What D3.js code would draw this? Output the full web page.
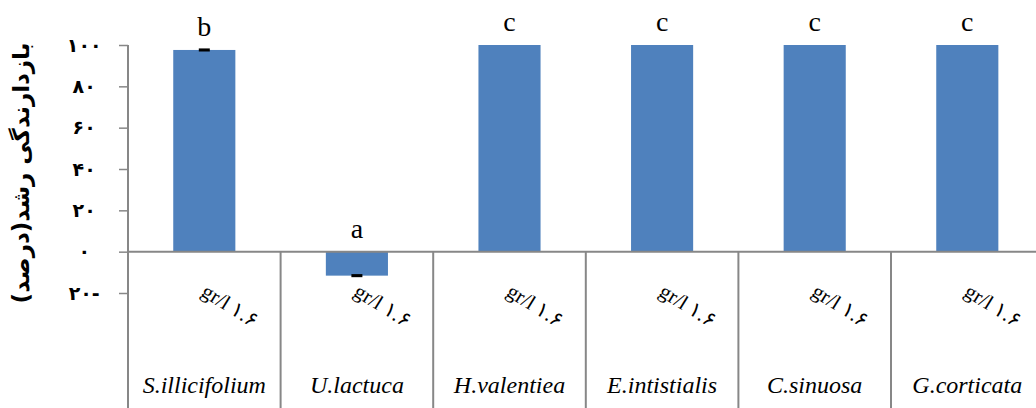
<!DOCTYPE html>
<html>
<head>
<meta charset="utf-8">
<script src="https://cdn.jsdelivr.net/npm/d3@7"></script>
<style>
  html, body { margin: 0; padding: 0; background: #fff; }
  svg { display: block; }
</style>
</head>
<body>
<svg id="chart" width="1036" height="408"></svg>
<script>
// Growth inhibition (%) of six algal extracts
const species = ["S.illicifolium", "U.lactuca", "H.valentiea", "E.intistialis", "C.sinuosa", "G.corticata"];
const concentration = ["gr/l ۱.۶", "gr/l ۱.۶", "gr/l ۱.۶", "gr/l ۱.۶", "gr/l ۱.۶", "gr/l ۱.۶"];
const inhibition = [97.6, -11.6, 100, 100, 100, 100];
const stdError = [0.6, 0.6, 0, 0, 0, 0];
const groupLetters = ["b", "a", "c", "c", "c", "c"];
const yTicks = [-20, 0, 20, 40, 60, 80, 100];
const yTitle = "بازدارندگی رشد(درصد)";

const persianDigits = "۰۱۲۳۴۵۶۷۸۹";
const toPersian = v => {
  const s = String(Math.abs(v)).replace(/\d/g, d => persianDigits[+d]);
  // RLM keeps the minus sign on the right, as in right-to-left text
  return v < 0 ? "\u200F-" + s : s;
};

const svg = d3.select("#chart");
const left = 128, bandW = 152.6;

const x = d3.scaleBand()
  .domain(species)
  .range([left, left + bandW * species.length])
  .padding(0);

const y = d3.scaleLinear().domain([-20, 100]).range([293, 45]);

const axisColor = "#878787";

// bars
const barW = x.bandwidth() * 0.407;
svg.append("g").selectAll("rect")
  .data(species)
  .join("rect")
  .attr("x", (d) => x(d) + (x.bandwidth() - barW) / 2)
  .attr("y", (d, i) => y(Math.max(0, inhibition[i])))
  .attr("width", barW)
  .attr("height", (d, i) => Math.abs(y(inhibition[i]) - y(0)))
  .attr("fill", "#4F81BD");

// error bars
svg.append("g").selectAll("rect")
  .data(species.filter((d, i) => stdError[i] > 0))
  .join("rect")
  .attr("x", d => x(d) + x.bandwidth() / 2 - 5.5)
  .attr("y", d => { const i = species.indexOf(d); return y(inhibition[i] + stdError[i]) - 0.3; })
  .attr("width", 11)
  .attr("height", d => { const i = species.indexOf(d); return y(inhibition[i] - stdError[i]) - y(inhibition[i] + stdError[i]) + 0.6; })
  .attr("fill", "#000");

// y axis
const yAxis = d3.axisLeft(y)
  .tickValues(yTicks)
  .tickSize(9)
  .tickPadding(31)
  .tickFormat(toPersian);

const gy = svg.append("g")
  .attr("transform", `translate(${left},0)`)
  .call(yAxis);
gy.select(".domain").remove();
gy.selectAll(".tick line").attr("stroke", axisColor).attr("stroke-width", 1.5);
gy.selectAll(".tick text")
  .attr("fill", "#000")
  .attr("text-anchor", "middle")
  .attr("dx", "-0.2em")
  .style("font-family", "'DejaVu Sans', sans-serif")
  .style("font-weight", "bold")
  .style("font-size", "19px");

// vertical axis line reaching through the category label rows
svg.append("line")
  .attr("x1", left).attr("x2", left)
  .attr("y1", y(100)).attr("y2", 408)
  .attr("stroke", axisColor).attr("stroke-width", 2);

// zero line
svg.append("line")
  .attr("x1", left).attr("x2", 1036)
  .attr("y1", y(0)).attr("y2", y(0))
  .attr("stroke", axisColor).attr("stroke-width", 2);

// category separators
svg.append("g").selectAll("line")
  .data(species.slice(1))
  .join("line")
  .attr("x1", d => x(d)).attr("x2", d => x(d))
  .attr("y1", y(0)).attr("y2", 408)
  .attr("stroke", axisColor).attr("stroke-width", 2);

// concentration labels (rotated)
svg.append("g").selectAll("text")
  .data(species)
  .join("text")
  .attr("transform", d => `translate(${x(d) + 72},${295}) rotate(32)`)
  .attr("text-anchor", "start")
  .style("font-family", "'Liberation Serif', serif")
  .style("font-size", "21px")
  .text((d, i) => concentration[i]);

// species names
svg.append("g").selectAll("text")
  .data(species)
  .join("text")
  .attr("x", d => x(d) + x.bandwidth() / 2)
  .attr("y", 393)
  .attr("text-anchor", "middle")
  .style("font-family", "'Liberation Serif', serif")
  .style("font-style", "italic")
  .style("font-size", "24px")
  .text(d => d);

// significance letters
svg.append("g").selectAll("text")
  .data(species)
  .join("text")
  .attr("x", d => x(d) + x.bandwidth() / 2)
  .attr("y", (d, i) => y(Math.max(0, inhibition[i])) - 14)
  .attr("text-anchor", "middle")
  .style("font-family", "'Liberation Serif', serif")
  .style("font-size", "28px")
  .text((d, i) => groupLetters[i]);

// y axis title
svg.append("text")
  .attr("transform", `translate(22,${173}) rotate(-90)`)
  .attr("text-anchor", "middle")
  .attr("direction", "rtl")
  .attr("dominant-baseline", "middle")
  .style("font-family", "'DejaVu Sans', sans-serif")
  .style("font-weight", "bold")
  .style("font-size", "23px")
  .text(yTitle);
</script>
</body>
</html>
